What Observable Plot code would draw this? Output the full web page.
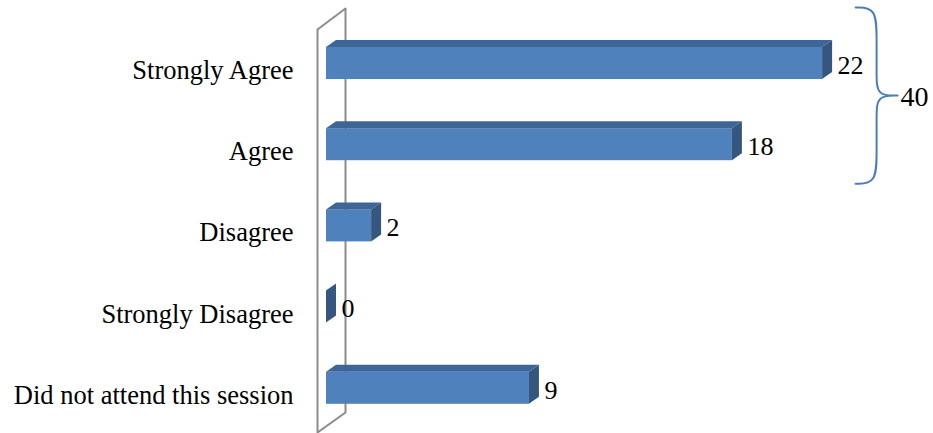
<!DOCTYPE html>
<html>
<head>
<meta charset="utf-8">
<script src="https://cdn.jsdelivr.net/npm/d3@7"></script>
<script src="https://cdn.jsdelivr.net/npm/@observablehq/plot@0.6"></script>
<style>
  html, body { margin: 0; padding: 0; background: #fff; }
</style>
</head>
<body>
<div id="chart"></div>
<script>
// ---- data ----
const categories = ["Strongly Agree", "Agree", "Disagree", "Strongly Disagree", "Did not attend this session"];
const values = [22, 18, 2, 0, 9];
const groupedCategories = ["Strongly Agree", "Agree"]; // bracketed group

// ---- layout / style ----
const W = 933, H = 433;
const ML = 326, MR = 43.25, MT = 22.4, MB = 4.6;
const X_MAX = 25;
const KX = (W - ML - MR) / X_MAX;        // px per value unit
const KY = (H - MT - MB) / categories.length; // px per category step
const ux = p => p / KX;                  // px length -> x units
const uy = p => p / KY;                  // px length -> y units
const DEPTH_X = 10, DEPTH_Y = 7;         // 3D depth in px
const HALF = uy(16);                     // half bar thickness
const dX = ux(DEPTH_X), dY = uy(DEPTH_Y);

const FRONT = "#4f81bd", TOP = "#3d6595", SIDE = "#35577f";

const rows = categories.map((c, i) => ({cat: c, i, v: values[i]}));

// top & side faces as polygon-areas (data units)
const topFaces = [], sideFaces = [];
for (const r of rows) {
  const yT = r.i - HALF, yB = r.i + HALF;
  if (r.v > 0) {
    topFaces.push({z: r.i, x: 0, y1: yT, y2: yT});
    topFaces.push({z: r.i, x: dX, y1: yT, y2: yT - dY});
    topFaces.push({z: r.i, x: r.v, y1: yT, y2: yT - dY});
    topFaces.push({z: r.i, x: r.v + dX, y1: yT - dY, y2: yT - dY});
  }
  sideFaces.push({z: r.i, x: r.v, y1: yB, y2: yT});
  sideFaces.push({z: r.i, x: r.v + dX, y1: yB - dY, y2: yT - dY});
}

// back wall (thin slab at x = 0)
const wallFront = ux(-9), wallBack = ux(19);
const wallTop = -0.5 + uy(6.6), wallBottom = 4.5 + uy(3.6);
const wallDepthY = uy(21);
const wall = [
  {x: wallFront, y: wallTop},
  {x: wallBack, y: wallTop - wallDepthY},
  {x: wallBack, y: wallBottom - wallDepthY + uy(1)},
  {x: wallFront, y: wallBottom},
  {x: wallFront, y: wallTop}
];

// brace around the grouped categories
const gIdx = groupedCategories.map(c => categories.indexOf(c));
const gTotal = d3.sum(gIdx, i => values[i]);
const gMax = d3.max(gIdx, i => values[i]);
const bx0 = gMax + ux(33);          // brace open end
const bx1 = bx0 + ux(21);           // brace spine
const bxt = bx1 + ux(21);           // brace tip
const by0 = d3.min(gIdx) - 0.5 - uy(15.5);
const by1 = d3.max(gIdx) + 0.5 - uy(1.5);
const bym = (by0 + by1) / 2;
const brace = [
  [bx0, by0], [bx1, by0], [bx1, by0 + uy(33)], [bx1, bym - uy(21)], [bx1, bym],
  [bxt, bym], [bxt, bym], [bxt, bym],
  [bx1, bym], [bx1, bym + uy(21)], [bx1, by1 - uy(33)], [bx1, by1], [bx0, by1]
].map(([x, y]) => ({x, y}));

const chart = Plot.plot({
  width: W,
  height: H,
  marginLeft: ML,
  marginRight: MR,
  marginTop: MT,
  marginBottom: MB,
  style: {fontFamily: "'Liberation Serif', 'Times New Roman', serif", fontSize: "26.5px", color: "#000", background: "#fff", overflow: "visible"},
  x: {domain: [0, X_MAX], axis: null},
  y: {domain: [-0.5, categories.length - 0.5], reverse: true, axis: null},
  marks: [
    Plot.line(wall, {x: "x", y: "y", stroke: "#8c8c8c", strokeWidth: 2}),
    Plot.rectX(rows.filter(d => d.v > 0), {x1: 0, x2: "v", y1: d => d.i - HALF, y2: d => d.i + HALF, fill: FRONT}),
    Plot.areaY(topFaces, {x: "x", y1: "y1", y2: "y2", z: "z", fill: TOP}),
    Plot.areaY(sideFaces, {x: "x", y1: "y1", y2: "y2", z: "z", fill: SIDE}),
    Plot.axisY(d3.range(categories.length), {
      tickFormat: i => categories[i], tickSize: 0, tickPadding: 33, dy: 7, fontSize: 26.5, label: null
    }),
    Plot.text(rows, {x: "v", y: "i", text: d => String(d.v), textAnchor: "start", dx: 15, dy: 2, fontSize: 26, fill: "#000"}),
    Plot.line(brace, {x: "x", y: "y", curve: "basis", stroke: "#4a7ebb", strokeWidth: 2}),
    Plot.text([gTotal], {x: bxt, y: bym, text: d => String(d), textAnchor: "start", dx: 3, dy: 1, fontSize: 28, fill: "#000"})
  ]
});

document.getElementById("chart").appendChild(chart);
</script>
</body>
</html>
